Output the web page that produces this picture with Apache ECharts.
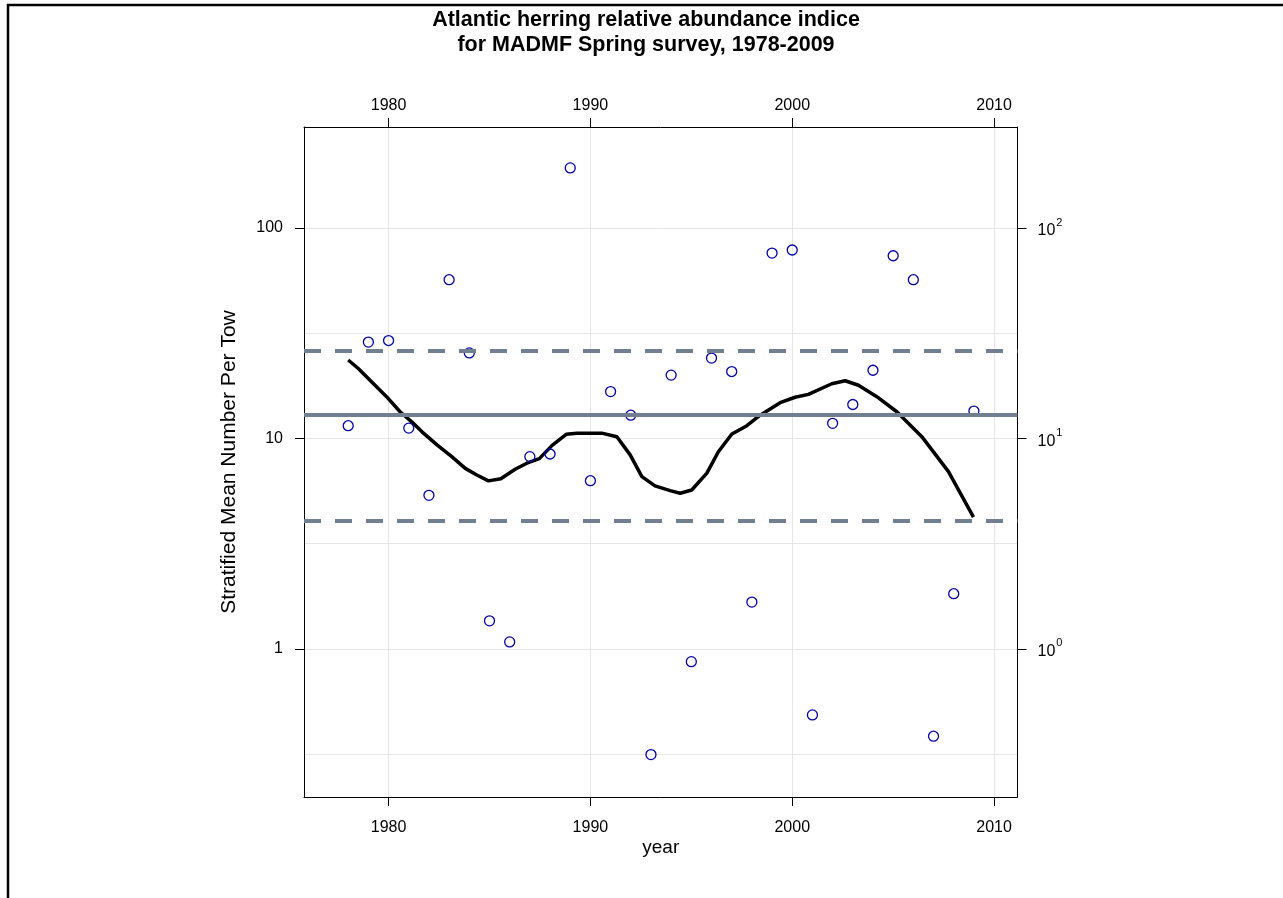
<!DOCTYPE html>
<html>
<head>
<meta charset="utf-8">
<style>html,body{margin:0;padding:0;background:#fff}#c{width:1283px;height:898px}</style>
<script src="https://cdn.jsdelivr.net/npm/echarts@6/dist/echarts.min.js"></script>
</head>
<body>
<div id="c"></div>
<script>
// ---- data ----
var years = [1978,1979,1980,1981,1982,1983,1984,1985,1986,1987,1988,1989,1990,1991,1992,1993,
             1994,1995,1996,1997,1998,1999,2000,2001,2002,2003,2004,2005,2006,2007,2008,2009];
var values = [11.5,28.7,29.2,11.2,5.37,56.8,25.5,1.36,1.08,8.2,8.44,193,6.3,16.7,12.9,0.315,
              20.0,0.87,24.1,20.8,1.67,76.0,78.6,0.486,11.8,14.5,21.1,73.8,56.8,0.385,1.83,13.5];
var smoothYears = [1978,1978.5,1979.33,1979.9,1980.57,1981.15,1981.73,1982.4,1983.13,1983.8,1984.37,
                   1984.95,1985.56,1986.27,1986.85,1987.47,1988.09,1988.8,1989.33,1990.56,1991.31,
                   1991.97,1992.55,1993.2,1993.95,1994.45,1995.02,1995.77,1996.34,1997.01,1997.75,
                   1998.41,1999.4,2000.14,2000.8,2001.96,2002.62,2003.28,2004.19,2005.18,2006.42,
                   2007.74,2008.98];
var smoothValues = [23.6,21.5,17.9,15.8,13.4,12.0,10.6,9.32,8.2,7.21,6.71,6.29,6.44,7.14,7.63,8.02,
                    9.25,10.47,10.6,10.6,10.2,8.36,6.59,5.95,5.65,5.49,5.69,6.84,8.65,10.5,11.5,
                    12.9,14.8,15.7,16.2,18.2,18.8,17.9,15.8,13.4,10.2,6.96,4.23];
var meanLevel = 12.98;
var upperLevel = 26.1;
var lowerLevel = 4.06;
var xTicks = [1980,1990,2000,2010];
var yTicks = [1,10,100];
var yGrid = [0.3162,1,3.162,10,31.62,100];
var titleLines = ['Atlantic herring relative abundance indice','for MADMF Spring survey, 1978-2009'];

var X_MIN = 1975.81, X_MAX = 2011.16, Y_MIN = 0.198, Y_MAX = 301.9;
var FONT = 'Liberation Sans, Arial, sans-serif';

var scatterData = years.map(function(y,i){return [y, values[i]];});
var smoothData = smoothYears.map(function(y,i){return [y, smoothValues[i]];});

var chart = echarts.init(document.getElementById('c'), null, {renderer:'canvas'});
var refStyle = {color:'#708090', width:4};
var tickFont = {fontFamily:FONT, fontSize:16, color:'#000'};
chart.setOption({
  animation:false,
  backgroundColor:'#fff',
  title:{
    text: titleLines.join('\n'),
    left: 646, top: 8, padding:0, textAlign:'center',
    textStyle:{fontFamily:FONT, fontWeight:'bold', fontSize:21.5, lineHeight:25, color:'#000'}
  },
  graphic:[
    {type:'line', shape:{x1:7, y1:5, x2:1283, y2:5}, style:{stroke:'#000', lineWidth:2.5}},
    {type:'line', shape:{x1:8, y1:4, x2:8, y2:898}, style:{stroke:'#000', lineWidth:2.5}}
  ],
  grid:{left:304, top:127, right:265.5, bottom:101, show:false, containLabel:false},
  xAxis:[
    {type:'value', position:'bottom', min:X_MIN, max:X_MAX,
     name:'year', nameLocation:'middle', nameGap:41, nameMoveOverlap:false,
     nameTextStyle:{fontFamily:FONT, fontSize:19, color:'#000'},
     axisLine:{show:true, onZero:false, lineStyle:{color:'#000', width:1}},
     axisTick:{show:true, length:9, customValues:xTicks, lineStyle:{color:'#000'}},
     axisLabel:Object.assign({show:true, customValues:xTicks, margin:23,
       formatter:function(v){return String(Math.round(v));}}, tickFont),
     splitLine:{show:true, lineStyle:{color:'#e6e6e6', width:1}}
    },
    {type:'value', position:'top', min:X_MIN, max:X_MAX,
     axisLine:{show:true, onZero:false, lineStyle:{color:'#000', width:1}},
     axisTick:{show:true, length:9, customValues:xTicks, lineStyle:{color:'#000'}},
     axisLabel:Object.assign({show:true, customValues:xTicks, margin:13,
       formatter:function(v){return String(Math.round(v));}}, tickFont),
     splitLine:{show:false}
    }
  ],
  yAxis:[
    {type:'log', logBase:10, position:'left', min:Y_MIN, max:Y_MAX,
     name:'Stratified Mean Number Per Tow', nameLocation:'middle', nameGap:64, nameMoveOverlap:false,
     nameTextStyle:{fontFamily:FONT, fontSize:21, color:'#000'},
     axisLine:{show:true, onZero:false, lineStyle:{color:'#000', width:1}},
     axisTick:{show:true, length:9, customValues:yTicks, lineStyle:{color:'#000'}},
     axisLabel:Object.assign({show:true, customValues:yTicks, margin:21,
       formatter:function(v){return String(Math.round(v));}}, tickFont),
     splitLine:{show:false}
    },
    {type:'log', logBase:10, position:'right', min:Y_MIN, max:Y_MAX,
     axisLine:{show:true, onZero:false, lineStyle:{color:'#000', width:1}},
     axisTick:{show:true, length:9, customValues:yTicks, lineStyle:{color:'#000'}},
     axisLabel:{show:true, customValues:yTicks, margin:20, color:'#000',
       formatter:function(v){return '{b|10}{s|' + Math.round(Math.log10(v)) + '}';},
       rich:{b:{fontFamily:FONT, fontSize:16, color:'#000', verticalAlign:'bottom', lineHeight:22},
             s:{fontFamily:FONT, fontSize:11, color:'#000', verticalAlign:'top', lineHeight:22, padding:[0,0,0,1]}}},
     splitLine:{show:false}
    },
    {type:'log', logBase:10, position:'left', min:Y_MIN, max:Y_MAX,
     axisLine:{show:false}, axisLabel:{show:false},
     axisTick:{show:false, customValues:yGrid},
     splitLine:{show:true, lineStyle:{color:'#e6e6e6', width:1}}
    }
  ],
  series:[
    {type:'line', xAxisIndex:0, yAxisIndex:0, data:[], silent:true,
     markLine:{silent:true, symbol:'none', label:{show:false},
       data:[
         {yAxis:meanLevel, lineStyle:{color:refStyle.color, width:refStyle.width, type:'solid'}},
         {yAxis:upperLevel, lineStyle:{color:refStyle.color, width:refStyle.width, type:[17,14]}},
         {yAxis:lowerLevel, lineStyle:{color:refStyle.color, width:refStyle.width, type:[17,14]}}
       ]}
    },
    {type:'line', xAxisIndex:0, yAxisIndex:0, data:smoothData, showSymbol:false, symbol:'none',
     lineStyle:{color:'#000', width:3.5, join:'round'}, z:3},
    {type:'scatter', xAxisIndex:0, yAxisIndex:0, data:scatterData, symbol:'circle', symbolSize:10,
     itemStyle:{color:'rgba(255,255,255,0)', borderColor:'#0000a8', borderWidth:1.3, opacity:1}, z:4}
  ]
});
</script>
</body>
</html>
